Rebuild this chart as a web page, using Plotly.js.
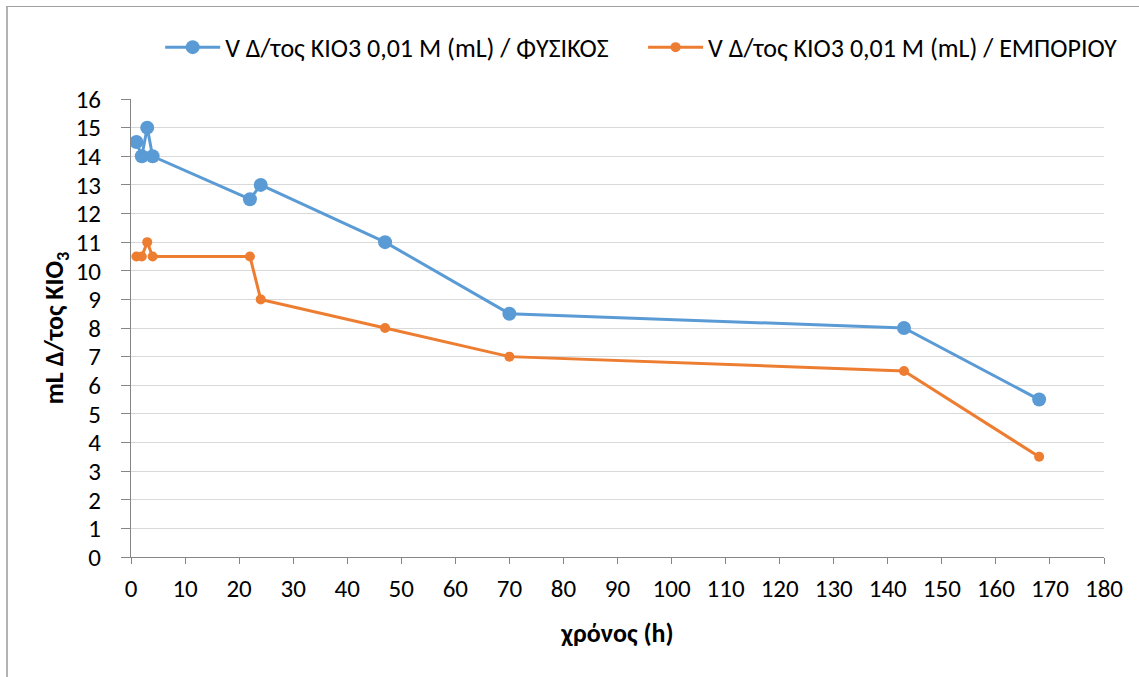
<!DOCTYPE html>
<html><head><meta charset="utf-8">
<script src="https://cdn.plot.ly/plotly-3.0.1.min.js"></script>
<style>
body{margin:0;overflow:hidden;}
#wrap{position:relative;width:1139px;height:677px;overflow:hidden;}
#frame{position:absolute;left:6px;top:6px;width:1300px;height:800px;border-left:2px solid #b3b3b3;border-top:1px solid #a0a0a0;pointer-events:none;}
</style>
</head><body><div id="wrap"><div id="c"></div><div id="frame"></div></div>
<script>
const hours = [1, 2, 3, 4, 22, 24, 47, 70, 143, 168];
const fysikos = [14.5, 14, 15, 14, 12.5, 13, 11, 8.5, 8, 5.5];
const emporiou = [10.5, 10.5, 11, 10.5, 10.5, 9, 8, 7, 6.5, 3.5];
const name1 = 'V Δ/τος KIO3 0,01 M (mL) / ΦΥΣΙΚΟΣ';
const name2 = 'V Δ/τος KIO3 0,01 M (mL) / ΕΜΠΟΡΙΟΥ';
const font = "Carlito, Calibri, Lato, 'Open Sans', sans-serif";
const pad = '\u00a0\u00a0\u00a0\u00a0\u00a0';
const traces = [
 {x: hours, y: fysikos, name: name1 + pad, mode: 'lines+markers', line: {color: '#5b9bd5', width: 3}, marker: {color: '#5b9bd5', size: 14}},
 {x: hours, y: emporiou, name: name2, mode: 'lines+markers', line: {color: '#ed7d31', width: 3}, marker: {color: '#ed7d31', size: 10}}
];
const layout = {
 width: 1139, height: 677,
 margin: {l: 131, r: 35, t: 99, b: 120},
 paper_bgcolor: '#ffffff', plot_bgcolor: '#ffffff',
 font: {family: font, size: 25, color: '#000'},
 showlegend: true,
 legend: {orientation: 'h', x: 0.03, y: 1.113, xanchor: 'left', yanchor: 'middle', font: {size: 26}, tracegroupgap: 0, itemwidth: 55},
 xaxis: {range: [0, 180], dtick: 10, tick0: 0, showgrid: false, zeroline: false, showline: true, linecolor: '#868686', linewidth: 1,
   ticks: 'outside', ticklen: 6, tickcolor: '#868686', tickfont: {size: 25}, ticklabelstandoff: 3,
   title: {text: '<b>χρόνος (h)</b>', font: {size: 26}, standoff: 20}},
 yaxis: {range: [0, 16], dtick: 1, tick0: 0, showgrid: true, gridcolor: '#d9d9d9', gridwidth: 1, zeroline: false, showline: true, linecolor: '#868686', linewidth: 1,
   ticks: 'outside', ticklen: 9, tickcolor: '#868686', tickfont: {size: 25}, ticklabelstandoff: 15,
   title: {text: '<b>mL Δ/τος KIO<sub>3</sub></b>', font: {size: 26}, standoff: 4}}
};
Plotly.newPlot('c', traces, layout, {displayModeBar: false, staticPlot: true});
</script></body></html>
